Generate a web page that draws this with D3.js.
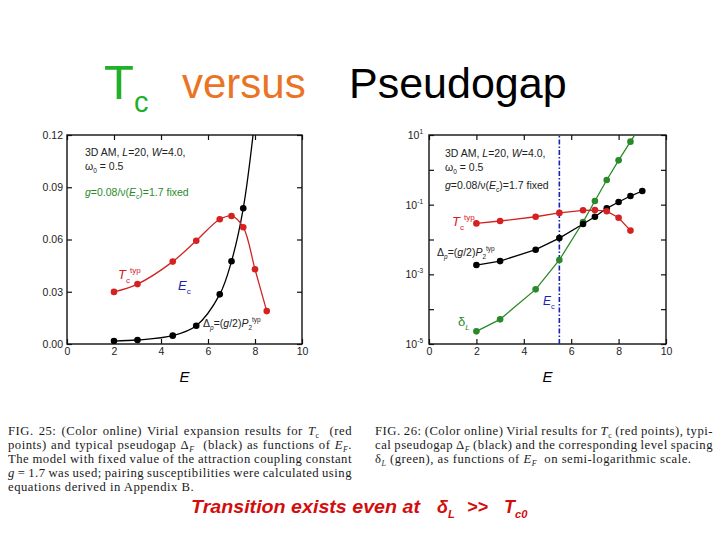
<!DOCTYPE html>
<html>
<head>
<meta charset="utf-8">
<script src="https://cdn.jsdelivr.net/npm/d3@7"></script>
<style>
  html, body { margin: 0; padding: 0; background: #fff; }
  svg { display: block; }
</style>
</head>
<body>
<svg id="chart" width="720" height="540"></svg>
<script>
// ---- data ----
const xTicks = [0, 2, 4, 6, 8, 10];

// FIG. 25 (linear scale)
const leftTcE = [2, 3, 4.5, 5.5, 6.5, 7, 7.5, 8, 8.5];
const leftTc = [0.0299, 0.0344, 0.0473, 0.0593, 0.0716, 0.0735, 0.067, 0.0429, 0.0189];
const leftGapE = [2, 3, 4.5, 5.5, 6.5, 7, 7.5];
const leftGap = [0.0017, 0.0023, 0.0048, 0.0105, 0.0285, 0.0475, 0.0779];
// the black curve leaves the frame near E = 7.9
const leftGapTailE = [8];
const leftGapTail = [0.13];
const leftYTicks = [0, 0.03, 0.06, 0.09, 0.12];

// FIG. 26 (semi-log scale)
const rightTcE = [2, 3, 4.5, 5.5, 6.5, 7, 7.5, 8, 8.5];
const rightTc = [0.029, 0.034, 0.045, 0.058, 0.069, 0.070, 0.065, 0.042, 0.018];
const rightGapE = [2, 3, 4.5, 5.5, 6.5, 7, 7.5, 8, 8.5, 9];
const rightGap = [0.00185, 0.0024, 0.0051, 0.011, 0.0279, 0.045, 0.0785, 0.119, 0.177, 0.247];
const rightDeltaE = [2, 3, 4.5, 5.5, 6.5, 7, 7.5, 8, 8.5, 9];
const rightDelta = [2.31e-5, 5.1e-5, 3.7e-4, 2.58e-3, 0.0318, 0.127, 0.51, 1.87, 6.44, 22];
const rightEc = 5.5;
const rightDecades = [-5, -4, -3, -2, -1, 0, 1];
const rightLabelDecades = [-5, -3, -1, 1];

const RED = '#d42222', GREEN = '#2a8a2a', BLUE = '#1a22b0', BLACK = '#000';
const SANS = 'Liberation Sans, Arial, sans-serif';
const SERIF = 'Liberation Serif, Times New Roman, serif';

const svg = d3.select('#chart');

// text made of pieces: [string, flags]  i = italic, b = bold, _ = subscript, ^ = superscript
function richText(parent, x, y, parts, size, attrs, subShift) {
    const t = parent.append('text').attr('x', x).attr('y', y)
        .attr('font-size', size).style('white-space', 'pre');
    Object.entries(attrs || {}).forEach(([k, v]) => t.attr(k, v));
    const down = subShift == null ? 0.3 : subShift;
    var shift = 0;
    parts.forEach(p => {
        const str = p[0], st = p[1] || '';
        const sub = st.includes('_'), sup = st.includes('^');
        const target = sub ? size * down : sup ? -size * 0.45 : 0;
        const ts = t.append('tspan').text(str).attr('dy', target - shift);
        shift = target;
        if (st.includes('i')) ts.attr('font-style', 'italic');
        if (st.includes('b')) ts.attr('font-weight', 'bold');
        if (sub || sup) ts.attr('font-size', size * 0.62);
    });
    return t;
}

// ---- title ----
const title = svg.append('g').attr('font-family', SANS);
title.append('text').attr('x', 104).attr('y', 99).attr('font-size', 49)
    .attr('fill', '#22b02a').text('T');
title.append('text').attr('x', 134).attr('y', 112).attr('font-size', 29)
    .attr('fill', '#22b02a').text('c');
title.append('text').attr('x', 182).attr('y', 98).attr('font-size', 42)
    .attr('fill', '#ea7424').text('versus');
title.append('text').attr('x', 349).attr('y', 98).attr('font-size', 43)
    .attr('fill', '#000').text('Pseudogap');

// ---- panel builder ----
function panel(opts) {
    const g = svg.append('g').attr('font-family', SANS);
    const { x, y } = opts;
    const [x0, x1] = x.range();
    const [y0, y1] = y.range();   // y0 bottom, y1 top

    const clipId = 'clip' + opts.id;
    svg.append('clipPath').attr('id', clipId).append('rect')
        .attr('x', x0).attr('y', y1).attr('width', x1 - x0).attr('height', y0 - y1);

    const axStyle = a => {
        a.select('.domain').remove();
        a.selectAll('line').attr('stroke', '#111').attr('stroke-width', 1.2);
        a.selectAll('text').attr('font-size', 10.5).attr('fill', '#222').attr('font-family', SANS);
    };

    g.append('g').attr('transform', `translate(0,${y0})`)
        .call(d3.axisBottom(x).tickValues(xTicks).tickSizeInner(-5).tickSizeOuter(0).tickPadding(4))
        .call(axStyle);
    g.append('g').attr('transform', `translate(0,${y1})`)
        .call(d3.axisTop(x).tickValues(xTicks).tickSizeInner(-5).tickSizeOuter(0).tickFormat(''))
        .call(axStyle);
    opts.yAxes(g, axStyle);

    g.append('rect').attr('x', x0).attr('y', y1).attr('width', x1 - x0).attr('height', y0 - y1)
        .attr('fill', 'none').attr('stroke', '#111').attr('stroke-width', 1.4);

    g.append('text').attr('x', (x0 + x1) / 2).attr('y', y0 + 38).attr('text-anchor', 'middle')
        .attr('font-size', 15).attr('font-style', 'italic').text('E');

    const plot = g.append('g').attr('clip-path', `url(#${clipId})`);
    return { g, plot };
}

function series(plot, x, y, xs, ys, color, curve, markN) {
    const pts = xs.map((e, i) => [e, ys[i]]);
    plot.append('path').datum(pts)
        .attr('fill', 'none').attr('stroke', color).attr('stroke-width', 1.3)
        .attr('d', d3.line().x(d => x(d[0])).y(d => y(d[1])).curve(curve));
    plot.selectAll(null).data(pts.slice(0, markN == null ? pts.length : markN)).enter()
        .append('circle').attr('cx', d => x(d[0])).attr('cy', d => y(d[1]))
        .attr('r', 3.3).attr('fill', color);
}

// ---- FIG. 25 ----
const xL = d3.scaleLinear().domain([0, 10]).range([67, 302]);
const yL = d3.scaleLinear().domain([0, 0.12]).range([344, 135]);
const L = panel({
    id: 'L', x: xL, y: yL,
    yAxes: (g, st) => {
        g.append('g').attr('transform', `translate(${xL.range()[0]},0)`)
            .call(d3.axisLeft(yL).tickValues(leftYTicks).tickSizeInner(-5).tickSizeOuter(0)
                .tickPadding(4).tickFormat(d3.format('.2f')))
            .call(st);
        g.append('g').attr('transform', `translate(${xL.range()[1]},0)`)
            .call(d3.axisRight(yL).tickValues(leftYTicks).tickSizeInner(-5).tickSizeOuter(0).tickFormat(''))
            .call(st);
    }
});
series(L.plot, xL, yL, leftGapE.concat(leftGapTailE), leftGap.concat(leftGapTail), BLACK,
    d3.curveCatmullRom, leftGapE.length);
series(L.plot, xL, yL, leftTcE, leftTc, RED, d3.curveCatmullRom);

richText(L.g, 85, 156, [['3D AM, '], ['L', 'i'], ['=20, '], ['W', 'i'], ['=4.0,']], 10.5, { fill: '#222' });
richText(L.g, 85, 170, [['ω'], ['0', '_'], [' = 0.5']], 10.5, { fill: '#222' });
richText(L.g, 85, 196, [['g', 'i'], ['=0.08/ν('], ['E', 'i'], ['c', '_'], [')=1.7 fixed']], 10.5, { fill: GREEN });
richText(L.g, 118, 279, [['T', 'i'], ['c', '_'], ['typ', '^']], 13, { fill: RED });
richText(L.g, 178, 290, [['E', 'i'], ['c', '_']], 13, { fill: BLUE });
richText(L.g, 203, 327, [['Δ'], ['p', 'i_'], ['=('], ['g', 'i'], ['/2)'], ['P', 'i'], ['2', '_'], ['typ', '^']], 10.5, { fill: '#222' });

// ---- FIG. 26 ----
const xR = d3.scaleLinear().domain([0, 10]).range([429, 666]);
const yR = d3.scaleLog().domain([1e-5, 10]).range([344, 135]);
const decadeVals = rightDecades.map(p => Math.pow(10, p));
const R = panel({
    id: 'R', x: xR, y: yR,
    yAxes: (g, st) => {
        g.append('g').attr('transform', `translate(${xR.range()[0]},0)`)
            .call(d3.axisLeft(yR).tickValues(decadeVals).tickSizeInner(-5).tickSizeOuter(0).tickFormat(''))
            .call(st);
        g.append('g').attr('transform', `translate(${xR.range()[1]},0)`)
            .call(d3.axisRight(yR).tickValues(decadeVals).tickSizeInner(-5).tickSizeOuter(0).tickFormat(''))
            .call(st);
        rightLabelDecades.forEach(p => {
            const t = g.append('text').attr('x', xR.range()[0] - 6).attr('y', yR(Math.pow(10, p)) + 4)
                .attr('text-anchor', 'end').attr('font-size', 10.5).attr('fill', '#222');
            t.append('tspan').text('10');
            t.append('tspan').text(p).attr('font-size', 6.5).attr('dy', -5);
        });
    }
});
R.plot.append('line').attr('x1', xR(rightEc)).attr('x2', xR(rightEc))
    .attr('y1', yR.range()[0]).attr('y2', yR.range()[1])
    .attr('stroke', BLUE).attr('stroke-width', 1.6).attr('stroke-dasharray', '5,2,1.5,2');
series(R.plot, xR, yR, rightDeltaE, rightDelta, GREEN, d3.curveLinear, rightDeltaE.length - 1);
series(R.plot, xR, yR, rightGapE, rightGap, BLACK, d3.curveLinear);
series(R.plot, xR, yR, rightTcE, rightTc, RED, d3.curveLinear);

richText(R.g, 445, 157, [['3D AM, '], ['L', 'i'], ['=20, '], ['W', 'i'], ['=4.0,']], 10.5, { fill: '#222' });
richText(R.g, 445, 171, [['ω'], ['0', '_'], [' = 0.5']], 10.5, { fill: '#222' });
richText(R.g, 445, 189, [['g', 'i'], ['=0.08/ν('], ['E', 'i'], ['c', '_'], [')=1.7 fixed']], 10.5, { fill: '#222' });
richText(R.g, 452, 226, [['T', 'i'], ['c', '_'], ['typ', '^']], 13, { fill: RED });
richText(R.g, 437, 256, [['Δ'], ['p', 'i_'], ['=('], ['g', 'i'], ['/2)'], ['P', 'i'], ['2', '_'], ['typ', '^']], 10.5, { fill: '#222' });
richText(R.g, 543, 305, [['E', 'i'], ['c', '_']], 12, { fill: BLUE });
richText(R.g, 458, 326, [['δ'], ['L', 'i_']], 13, { fill: GREEN });

// ---- captions ----
const capLeft = [
    [['FIG. 25: (Color online) Virial expansion results for '], ['T', 'i'], ['c', '_'], ['  (red']],
    [['points) and typical pseudogap Δ'], ['F', 'i_'], ['  (black) as functions of '], ['E', 'i'], ['F', 'i_'], ['.']],
    [['The model with fixed value of the attraction coupling constant']],
    [['g', 'i'], [' = 1.7 was used; pairing susceptibilities were calculated using']],
    [['equations derived in Appendix B.']]
];
const capRight = [
    [['FIG. 26: (Color online) Virial results for '], ['T', 'i'], ['c', '_'], [' (red points), typi-']],
    [['cal pseudogap Δ'], ['F', 'i_'], [' (black) and the corresponding level spacing']],
    [['δ'], ['L', 'i_'], [' (green), as functions of '], ['E', 'i'], ['F', 'i_'], ['  on semi-logarithmic scale.']]
];

// full lines are spread to the right edge; the last line only gets the letter spacing
function caption(lines, x0, x1, y0, lineH) {
    const g = svg.append('g').attr('font-family', SERIF).attr('fill', '#1a1a1a');
    const ls = 0.5;
    lines.forEach((parts, i) => {
        const t = richText(g, x0, y0 + i * lineH, parts, 12.7, null, 0.2).attr('letter-spacing', ls);
        if (i === lines.length - 1) return;
        const spaces = (t.text().match(/ /g) || []).length;
        const len = t.node().getComputedTextLength();
        if (spaces > 0) t.attr('word-spacing', (x1 - x0 - len) / spaces);
    });
}
caption(capLeft, 8, 352, 435, 14);
caption(capRight, 375, 713, 435, 14);

// ---- bottom remark ----
const note = svg.append('g').attr('font-family', SANS).attr('fill', '#d40c0c')
    .attr('font-style', 'italic').attr('font-weight', 'bold');
note.append('text').attr('x', 191).attr('y', 513).attr('font-size', 18)
    .attr('textLength', 229).attr('lengthAdjust', 'spacingAndGlyphs').text('Transition exists even at');
richText(note, 437, 513, [['δ'], ['L', '_']], 18);
note.append('text').attr('x', 467).attr('y', 513).attr('font-size', 18).text('>>');
richText(note, 504, 513, [['T'], ['c0', '_']], 18);
</script>
</body>
</html>
